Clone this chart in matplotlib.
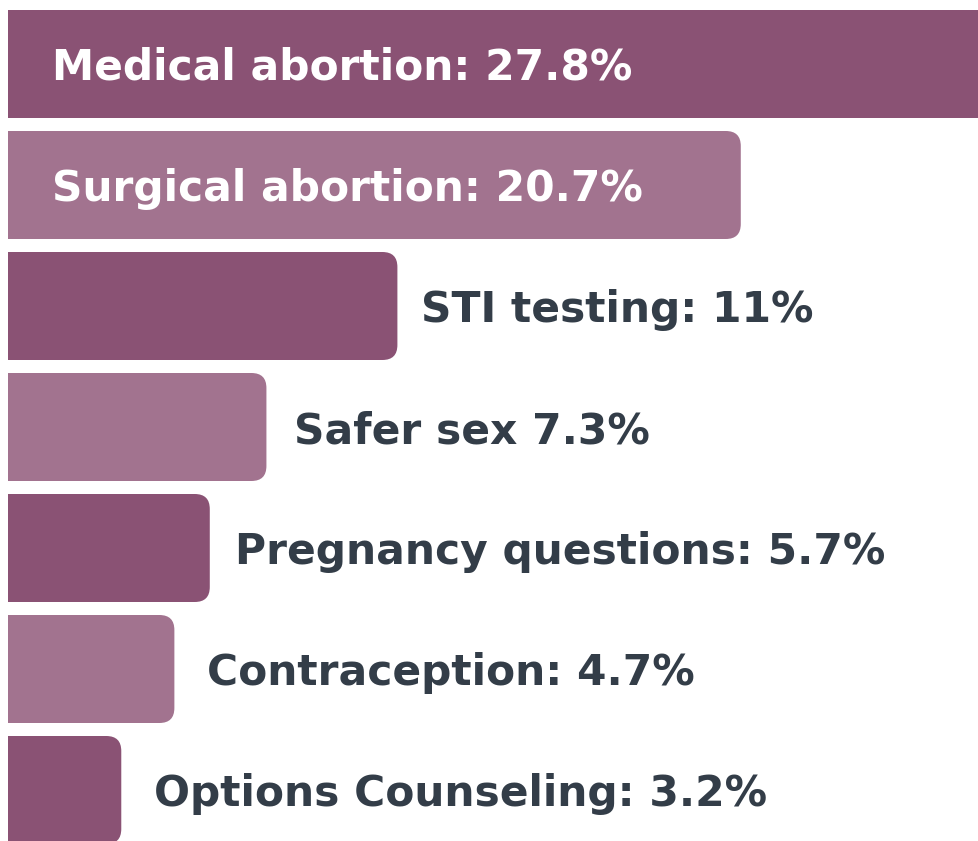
import matplotlib
matplotlib.use('Agg')
import matplotlib.pyplot as plt
from matplotlib.patches import FancyBboxPatch

# data
labels = ['Medical abortion: 27.8%', 'Surgical abortion: 20.7%', 'STI testing: 11%',
          'Safer sex 7.3%', 'Pregnancy questions: 5.7%', 'Contraception: 4.7%',
          'Options Counseling: 3.2%']
values = [27.8, 20.7, 11, 7.3, 5.7, 4.7, 3.2]
inside = [True, True, False, False, False, False, False]
gaps = [44, 44, 24, 28, 25, 33, 33]  # px from bar start / bar end

dark = '#8a5274'
light = '#a2738f'
text_dark = '#333d48'
fnt = ['DejaVu Sans']

W, H = 979, 841
fig = plt.figure(figsize=(W / 100, H / 100), dpi=100)
px_per_pct = 35.4
x0 = 8 / W
ax = fig.add_axes([x0, 0, 1 - x0, 1])
ax.set_xlim(0, (W - 8) / px_per_pct)
step = 121.0
ax.set_ylim((H - 64) / step, -64 / step)
ax.axis('off')

bar_h = 108 / step
r_px = 15
ux = 1 / px_per_pct
uy = 1 / step
for i, v in enumerate(values):
    color = dark if i % 2 == 0 else light
    rx = r_px * ux
    p = FancyBboxPatch((-rx, i - bar_h / 2), v + rx, bar_h,
                       boxstyle=f'round,pad=0,rounding_size={rx}',
                       mutation_aspect=uy / ux,
                       fc=color, ec='none', clip_on=True)
    ax.add_patch(p)
    xa = 0 if inside[i] else v
    ax.annotate(labels[i], (xa, i), xytext=(gaps[i] * 0.72, -16 * 0.72),
                textcoords='offset points', va='baseline', ha='left',
                color='white' if inside[i] else text_dark, fontsize=30.5,
                fontweight='bold', family=fnt)

plt.savefig('out.png', dpi=100)
